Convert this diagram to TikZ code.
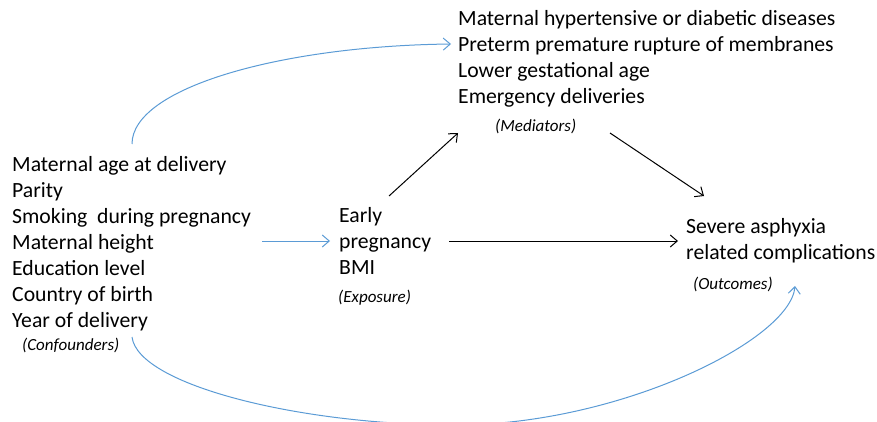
\documentclass[tikz,border=0pt]{standalone}
\usepackage{fontspec}
\setmainfont{Carlito}
\usetikzlibrary{arrows.meta}
\definecolor{cblue}{RGB}{91,155,213}
\begin{document}
\begin{tikzpicture}[x=1pt,y=-1pt,
  blk/.style={anchor=north west,inner sep=0pt,align=left,font=\fontsize{21.7}{26}\selectfont},
  lab/.style={anchor=north west,inner sep=0pt,font=\fontsize{17}{20}\selectfont\itshape},
  arr/.style={line width=1pt,-{Straight Barb[length=7pt,width=12pt]}},
  barr/.style={arr,draw=cblue}]
\useasboundingbox (0,0) rectangle (877,422);
\node[blk] (conf) at (12,156) {Maternal age at delivery\\Parity\\Smoking\ \ during pregnancy\\Maternal height\\Education level\\Country of birth\\Year of delivery};
\node[lab] (confl) at (22,337.5) {(Confounders)};
\node[blk] (med) at (458,10.5) {Maternal hypertensive or diabetic diseases\\Preterm premature rupture of membranes\\Lower gestational age\\Emergency deliveries};
\node[lab] (medl) at (495,118.5) {(Mediators)};
\node[blk] (exp) at (339,207.5) {Early\\pregnancy\\BMI};
\node[lab] (expl) at (338,289.5) {(Exposure)};
\node[blk] (out) at (686,218.5) {Severe asphyxia\\related complications};
\node[lab] (outl) at (693,276.5) {(Outcomes)};
% connector end points
\coordinate (c1) at (132,144);
\coordinate (m1) at (451,44);
\coordinate (c2) at (262,241);
\coordinate (e1) at (330,241);
\coordinate (e2) at (389,196);
\coordinate (m2) at (458,133);
\coordinate (m3) at (610,133);
\coordinate (o1) at (704,196);
\coordinate (e3) at (449,241);
\coordinate (o2) at (678,241);
\coordinate (c3) at (132,337);
\coordinate (bot) at (455,425);
\coordinate (o3) at (795,286);
% connectors
\draw[barr] (c1) .. controls (132,88) and (280,46) .. (m1);
\draw[barr] (c2) -- (e1);
\draw[arr] (e2) -- (m2);
\draw[arr] (m3) -- (o1);
\draw[arr] (e3) -- (o2);
\draw[barr] (c3) .. controls (138,385) and (300,425) .. (bot) .. controls (620,425) and (790,340) .. (o3);
\end{tikzpicture}
\end{document}
